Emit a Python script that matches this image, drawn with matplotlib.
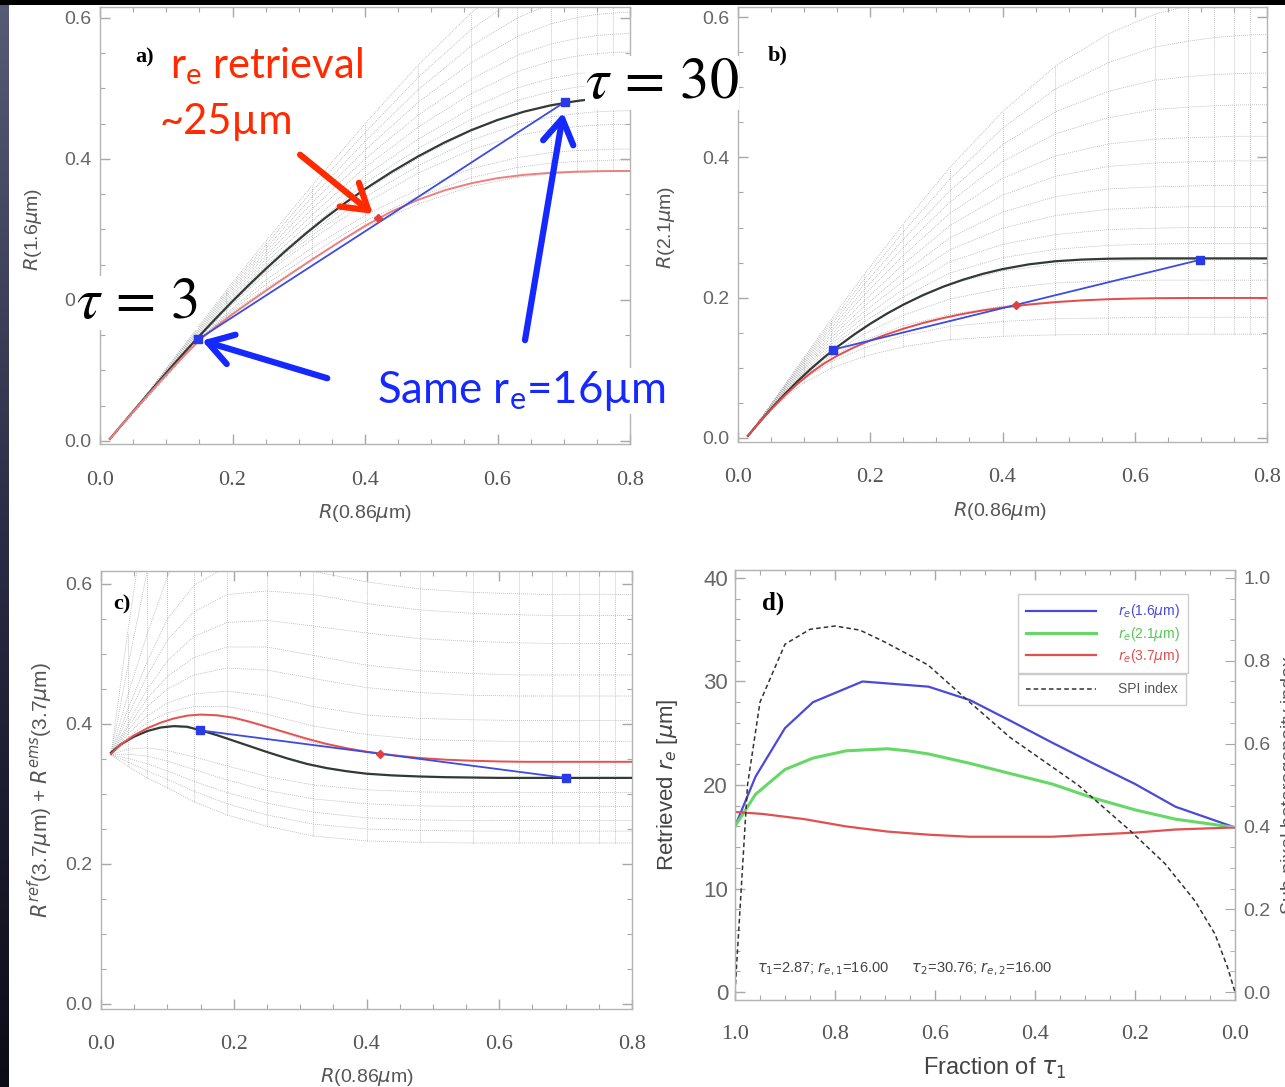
import numpy as np
import matplotlib.pyplot as plt
from matplotlib.ticker import MultipleLocator, FormatStrFormatter
from matplotlib.colors import LinearSegmentedColormap
from matplotlib.patches import Rectangle

W, H = 1285, 1087

plt.rcParams['font.family'] = ['Liberation Sans', 'DejaVu Sans']
plt.rcParams['mathtext.fontset'] = 'custom'
plt.rcParams['mathtext.rm'] = 'Lato'
plt.rcParams['mathtext.it'] = 'Lato:italic'
plt.rcParams['mathtext.bf'] = 'Lato:bold'

# ---------------- values ----------------
# R(0.86um) nodes of the look-up-table (dotted) curves of panels a-c
MESH_X = [0.015, 0.04, 0.07, 0.10, 0.14, 0.19, 0.25, 0.32, 0.40, 0.48, 0.56, 0.63, 0.68, 0.72, 0.75, 0.775, 0.80]
# R(0.86um) nodes of the highlighted re=16 (black) and retrieved re (red) curves
CURVE_X = [0.015, 0.03, 0.05, 0.07, 0.09, 0.11, 0.13, 0.15, 0.175, 0.20, 0.225, 0.25, 0.28, 0.31,
           0.34, 0.37, 0.40, 0.44, 0.48, 0.52, 0.56, 0.60, 0.64, 0.68, 0.72, 0.76, 0.80]

# panel a : R(1.6um)
A_BLACK = [0.003, 0.0198, 0.042, 0.064, 0.0858, 0.1073, 0.1284, 0.149, 0.174, 0.1982, 0.2215, 0.2439, 0.2695,
           0.2937, 0.3164, 0.3376, 0.3573, 0.3815, 0.4036, 0.4234, 0.4407, 0.4553, 0.4671, 0.476, 0.4823, 0.4867, 0.4895]
A_RED = [0.003, 0.0197, 0.0415, 0.0628, 0.0837, 0.104, 0.1237, 0.1427, 0.1622, 0.1799, 0.1965, 0.2129, 0.2321,
         0.251, 0.2695, 0.2876, 0.3051, 0.3255, 0.342, 0.3555, 0.3655, 0.3728, 0.3775, 0.3804, 0.382, 0.3828, 0.383]
A_MESH = [
    [0.003, 0.029, 0.060, 0.091, 0.134, 0.176, 0.216, 0.258, 0.303, 0.336, 0.361, 0.374, 0.379, 0.381, 0.382, 0.383, 0.383],
    [0.003, 0.029, 0.0605, 0.0915, 0.1345, 0.178, 0.222, 0.2655, 0.3115, 0.3465, 0.3735, 0.388, 0.394, 0.3965, 0.3975, 0.3985, 0.3985],
    [0.003, 0.029, 0.061, 0.092, 0.135, 0.180, 0.228, 0.274, 0.320, 0.357, 0.386, 0.402, 0.409, 0.412, 0.413, 0.414, 0.414],
    [0.003, 0.030, 0.061, 0.094, 0.136, 0.185, 0.237, 0.286, 0.337, 0.380, 0.413, 0.433, 0.442, 0.446, 0.448, 0.449, 0.449],
    [0.003, 0.030, 0.0615, 0.0955, 0.1365, 0.187, 0.2405, 0.291, 0.346, 0.3905, 0.4265, 0.449, 0.4595, 0.4645, 0.467, 0.468, 0.4685],
    [0.003, 0.030, 0.062, 0.095, 0.137, 0.189, 0.244, 0.296, 0.355, 0.401, 0.440, 0.465, 0.477, 0.483, 0.486, 0.487, 0.488],
    [0.003, 0.030, 0.0625, 0.096, 0.139, 0.192, 0.2485, 0.304, 0.3655, 0.4145, 0.456, 0.483, 0.4955, 0.502, 0.505, 0.506, 0.507],
    [0.003, 0.030, 0.063, 0.097, 0.141, 0.195, 0.253, 0.312, 0.376, 0.428, 0.472, 0.501, 0.514, 0.521, 0.524, 0.525, 0.526],
    [0.003, 0.030, 0.0635, 0.098, 0.143, 0.198, 0.258, 0.3205, 0.388, 0.445, 0.4925, 0.524, 0.5385, 0.546, 0.5495, 0.551, 0.552],
    [0.003, 0.030, 0.064, 0.099, 0.145, 0.201, 0.263, 0.329, 0.400, 0.462, 0.513, 0.547, 0.563, 0.571, 0.575, 0.577, 0.578],
    [0.003, 0.0305, 0.0645, 0.100, 0.1465, 0.204, 0.268, 0.3375, 0.4125, 0.480, 0.5365, 0.5735, 0.5915, 0.6005, 0.605, 0.607, 0.608],
    [0.003, 0.031, 0.065, 0.101, 0.148, 0.207, 0.273, 0.346, 0.425, 0.498, 0.560, 0.600, 0.620, 0.630, 0.635, 0.637, 0.638],
    [0.003, 0.031, 0.0655, 0.102, 0.150, 0.210, 0.278, 0.354, 0.4375, 0.5155, 0.5835, 0.629, 0.6515, 0.6635, 0.669, 0.6715, 0.673],
    [0.003, 0.031, 0.066, 0.103, 0.152, 0.213, 0.283, 0.362, 0.450, 0.533, 0.607, 0.658, 0.683, 0.697, 0.703, 0.706, 0.708],
]
A_PTS_X = [0.148, 0.42, 0.702]      # tau=3, mean reflectance, tau=30
A_PTS_Y = [0.144, 0.316, 0.481]

# panel b : R(2.1um)
B_BLACK = [0.003, 0.0199, 0.0415, 0.0618, 0.0808, 0.0984, 0.1147, 0.1297, 0.147, 0.1628, 0.1771, 0.19, 0.2037,
           0.2155, 0.2255, 0.2339, 0.2407, 0.2475, 0.2519, 0.2543, 0.2555, 0.2559, 0.256, 0.256, 0.256, 0.256, 0.256]
B_RED = [0.003, 0.0198, 0.0407, 0.0598, 0.0772, 0.0927, 0.1061, 0.1172, 0.1289, 0.139, 0.1478, 0.1557, 0.164,
         0.1709, 0.1768, 0.1818, 0.1859, 0.1902, 0.1936, 0.1961, 0.1978, 0.1988, 0.1993, 0.1995, 0.1996, 0.1996, 0.1996]
B_MESH = [
    [0.003, 0.030, 0.057, 0.079, 0.099, 0.116, 0.130, 0.140, 0.145, 0.147, 0.148, 0.148, 0.148, 0.148, 0.148, 0.148, 0.148],
    [0.003, 0.031, 0.060, 0.084, 0.108, 0.128, 0.146, 0.159, 0.166, 0.170, 0.171, 0.172, 0.172, 0.172, 0.172, 0.172, 0.172],
    [0.003, 0.032, 0.062, 0.088, 0.116, 0.139, 0.160, 0.176, 0.188, 0.195, 0.198, 0.199, 0.200, 0.200, 0.200, 0.200, 0.200],
    [0.003, 0.032, 0.063, 0.090, 0.119, 0.148, 0.175, 0.198, 0.213, 0.221, 0.224, 0.225, 0.225, 0.225, 0.225, 0.225, 0.225],
    [0.003, 0.033, 0.065, 0.093, 0.123, 0.158, 0.190, 0.219, 0.238, 0.248, 0.252, 0.254, 0.254, 0.254, 0.254, 0.254, 0.254],
    [0.003, 0.033, 0.066, 0.0955, 0.128, 0.165, 0.201, 0.235, 0.257, 0.269, 0.2745, 0.2765, 0.277, 0.277, 0.277, 0.277, 0.277],
    [0.003, 0.033, 0.067, 0.098, 0.133, 0.172, 0.212, 0.251, 0.276, 0.290, 0.297, 0.299, 0.300, 0.300, 0.300, 0.300, 0.300],
    [0.003, 0.0335, 0.068, 0.100, 0.1375, 0.1795, 0.2235, 0.268, 0.299, 0.317, 0.326, 0.3285, 0.3295, 0.330, 0.330, 0.330, 0.330],
    [0.003, 0.034, 0.069, 0.102, 0.142, 0.187, 0.235, 0.285, 0.322, 0.344, 0.355, 0.358, 0.359, 0.360, 0.360, 0.360, 0.360],
    [0.003, 0.034, 0.070, 0.1045, 0.1465, 0.195, 0.2475, 0.3025, 0.346, 0.373, 0.387, 0.392, 0.3935, 0.3945, 0.395, 0.395, 0.395],
    [0.003, 0.034, 0.071, 0.107, 0.151, 0.203, 0.260, 0.320, 0.370, 0.402, 0.419, 0.426, 0.428, 0.429, 0.430, 0.430, 0.430],
    [0.003, 0.0345, 0.072, 0.109, 0.1555, 0.2105, 0.2715, 0.336, 0.394, 0.4335, 0.4565, 0.468, 0.4715, 0.4735, 0.4745, 0.475, 0.475],
    [0.003, 0.035, 0.073, 0.111, 0.160, 0.218, 0.283, 0.352, 0.418, 0.465, 0.494, 0.510, 0.515, 0.518, 0.519, 0.520, 0.520],
    [0.003, 0.035, 0.074, 0.113, 0.164, 0.225, 0.294, 0.3685, 0.4415, 0.4975, 0.535, 0.557, 0.5655, 0.5705, 0.573, 0.5745, 0.575],
    [0.003, 0.035, 0.075, 0.115, 0.168, 0.232, 0.305, 0.385, 0.465, 0.530, 0.576, 0.604, 0.616, 0.623, 0.627, 0.629, 0.630],
]
B_PTS_X = [0.144, 0.42, 0.699]
B_PTS_Y = [0.126, 0.190, 0.254]

# panel c : R_ref(3.7um) + R_ems(3.7um)
C_BLACK = [0.359, 0.371, 0.382, 0.390, 0.395, 0.397, 0.396, 0.391, 0.384, 0.376, 0.368, 0.360, 0.351, 0.343,
           0.337, 0.3325, 0.329, 0.3265, 0.325, 0.324, 0.3235, 0.323, 0.323, 0.323, 0.323, 0.323, 0.323]
C_RED = [0.357, 0.371, 0.384, 0.394, 0.402, 0.408, 0.412, 0.4135, 0.4125, 0.409, 0.403, 0.396, 0.3875, 0.379,
         0.3715, 0.3655, 0.3605, 0.3555, 0.3515, 0.349, 0.3475, 0.3465, 0.346, 0.346, 0.346, 0.346, 0.346]
C_MESH = [
    [0.356, 0.340, 0.323, 0.309, 0.289, 0.270, 0.254, 0.240, 0.233, 0.231, 0.230, 0.230, 0.230, 0.230, 0.230, 0.230, 0.230],
    [0.356, 0.346, 0.333, 0.321, 0.304, 0.286, 0.270, 0.257, 0.250, 0.248, 0.247, 0.247, 0.247, 0.247, 0.247, 0.247, 0.247],
    [0.356, 0.351, 0.343, 0.333, 0.318, 0.302, 0.287, 0.274, 0.266, 0.263, 0.262, 0.262, 0.262, 0.262, 0.262, 0.262, 0.262],
    [0.356, 0.357, 0.354, 0.347, 0.335, 0.320, 0.305, 0.293, 0.286, 0.283, 0.282, 0.282, 0.282, 0.282, 0.282, 0.282, 0.282],
    [0.356, 0.364, 0.366, 0.362, 0.353, 0.340, 0.325, 0.313, 0.306, 0.303, 0.302, 0.302, 0.302, 0.302, 0.302, 0.302, 0.302],
    [0.359, 0.377, 0.390, 0.397, 0.393, 0.379, 0.360, 0.341, 0.329, 0.325, 0.324, 0.323, 0.323, 0.323, 0.323, 0.323, 0.323],
    [0.357, 0.376, 0.395, 0.405, 0.413, 0.410, 0.395, 0.373, 0.360, 0.350, 0.347, 0.346, 0.346, 0.346, 0.346, 0.346, 0.346],
    [0.356, 0.380, 0.402, 0.416, 0.425, 0.425, 0.414, 0.397, 0.385, 0.378, 0.376, 0.375, 0.375, 0.375, 0.375, 0.375, 0.375],
    [0.356, 0.385, 0.412, 0.430, 0.443, 0.447, 0.440, 0.425, 0.413, 0.408, 0.406, 0.405, 0.405, 0.405, 0.405, 0.405, 0.405],
    [0.356, 0.390, 0.425, 0.450, 0.470, 0.480, 0.477, 0.465, 0.452, 0.445, 0.441, 0.440, 0.440, 0.440, 0.440, 0.440, 0.440],
    [0.356, 0.395, 0.437, 0.468, 0.495, 0.510, 0.510, 0.498, 0.484, 0.476, 0.472, 0.470, 0.470, 0.470, 0.470, 0.470, 0.470],
    [0.356, 0.400, 0.450, 0.490, 0.525, 0.545, 0.548, 0.540, 0.530, 0.522, 0.518, 0.516, 0.515, 0.515, 0.515, 0.515, 0.515],
    [0.356, 0.410, 0.470, 0.520, 0.560, 0.585, 0.590, 0.585, 0.572, 0.563, 0.558, 0.556, 0.555, 0.555, 0.555, 0.555, 0.555],
    [0.356, 0.420, 0.490, 0.550, 0.598, 0.625, 0.628, 0.618, 0.603, 0.593, 0.588, 0.586, 0.585, 0.585, 0.585, 0.585, 0.585],
    [0.356, 0.440, 0.530, 0.610, 0.700, 0.780, 0.850, 0.900, 0.930, 0.940, 0.945, 0.950, 0.950, 0.950, 0.950, 0.950, 0.950],
    [0.356, 0.480, 0.620, 0.750, 0.880, 1.000, 1.100, 1.150, 1.180, 1.190, 1.200, 1.200, 1.200, 1.200, 1.200, 1.200, 1.200],
    [0.356, 0.530, 0.720, 0.900, 1.050, 1.200, 1.300, 1.350, 1.380, 1.390, 1.400, 1.400, 1.400, 1.400, 1.400, 1.400, 1.400],
]
C_PTS_X = [0.149, 0.42, 0.700]
C_PTS_Y = [0.391, 0.357, 0.323]

# panel d : retrieved re vs fraction of tau1
D_FRAC_16 = [1.0, 0.959, 0.90, 0.844, 0.745, 0.613, 0.53, 0.449, 0.366, 0.284, 0.20, 0.119, 0.0]
D_RE_16 = [16.0, 20.8, 25.5, 28.0, 30.0, 29.5, 28.2, 26.2, 24.1, 22.1, 20.1, 17.9, 15.9]
D_FRAC_21 = [1.0, 0.959, 0.90, 0.844, 0.778, 0.695, 0.654, 0.613, 0.531, 0.449, 0.366, 0.284, 0.20, 0.119, 0.0]
D_RE_21 = [16.0, 19.1, 21.5, 22.6, 23.3, 23.5, 23.3, 23.0, 22.1, 21.1, 20.1, 18.75, 17.6, 16.7, 15.9]
D_FRAC_37 = [1.0, 0.944, 0.861, 0.778, 0.695, 0.613, 0.531, 0.449, 0.366, 0.284, 0.20, 0.119, 0.0]
D_RE_37 = [17.4, 17.2, 16.7, 16.0, 15.5, 15.2, 15.0, 15.0, 15.0, 15.2, 15.4, 15.7, 15.9]
D_SPI_FRAC = [1.0, 0.99, 0.975, 0.95, 0.90, 0.85, 0.80, 0.75, 0.70, 0.614, 0.54, 0.45, 0.314, 0.21, 0.14, 0.08, 0.04, 0.015, 0.0]
D_SPI = [0.0, 0.20, 0.50, 0.70, 0.84, 0.876, 0.884, 0.874, 0.845, 0.79, 0.71, 0.615, 0.50, 0.39, 0.31, 0.22, 0.14, 0.06, 0.0]
D_LABELS = [r'$r_e$(1.6$\mu$m)', r'$r_e$(2.1$\mu$m)', r'$r_e$(3.7$\mu$m)']

# ---------------- figure ----------------
fig = plt.figure(figsize=(W / 100, H / 100), dpi=100)
fig.patch.set_facecolor('white')

MESH_COL = '#a2a2a2'
LAB_COL = '#555555'


def px_axes(x0, x1, ytop, ybot):
    return fig.add_axes([x0 / W, 1 - ybot / H, (x1 - x0) / W, (ybot - ytop) / H])


def style(ax, xmaj, xmin, ymaj, ymin, xfmt, yfmt, xsize, ysize, xpad, ypad, right=True):
    ax.xaxis.set_major_locator(MultipleLocator(xmaj))
    ax.xaxis.set_minor_locator(MultipleLocator(xmin))
    ax.yaxis.set_major_locator(MultipleLocator(ymaj))
    ax.yaxis.set_minor_locator(MultipleLocator(ymin))
    ax.xaxis.set_major_formatter(FormatStrFormatter(xfmt))
    ax.yaxis.set_major_formatter(FormatStrFormatter(yfmt))
    for sp in ax.spines.values():
        sp.set_color('#b4b4b4')
        sp.set_linewidth(1.0)
    ax.tick_params(which='both', direction='in', top=True, right=right, color='#a8a8a8')
    ax.tick_params(which='major', length=7, width=1)
    ax.tick_params(which='minor', length=3.5, width=0.8)
    ax.tick_params(axis='x', labelsize=xsize, pad=xpad, labelcolor='#555555',
                   labelfontfamily='Liberation Serif')
    ax.tick_params(axis='y', labelsize=ysize, pad=ypad, labelcolor='#666666')


def draw_mesh(ax, rows):
    for row in rows:
        ax.plot(MESH_X, row, ls=(0, (1, 1.6)), lw=0.55, color=MESH_COL, zorder=1)
    tab = np.array(rows)
    for j in range(1, len(MESH_X) - 1):
        ax.plot([MESH_X[j], MESH_X[j]], [tab[:, j].min(), tab[:, j].max()],
                ls=(0, (1, 1.6)), lw=0.55, color=MESH_COL, zorder=1)


ax_a = px_axes(100, 630, 7.4, 444.5)
ax_b = px_axes(738, 1267, 6.5, 441.5)
ax_c = px_axes(101, 632, 571.4, 1008.9)
ax_d = px_axes(735, 1235, 570, 1000)

panels = [
    (ax_a, A_BLACK, A_RED, A_MESH, A_PTS_X, A_PTS_Y, '#ee7f7f', (-0.005, 0.615)),
    (ax_b, B_BLACK, B_RED, B_MESH, B_PTS_X, B_PTS_Y, '#e84a4a', (-0.005, 0.615)),
    (ax_c, C_BLACK, C_RED, C_MESH, C_PTS_X, C_PTS_Y, '#e85050', (-0.007, 0.618)),
]
for ax, black, red, mesh, px, py, rcol, ylim in panels:
    draw_mesh(ax, mesh)
    ax.plot(CURVE_X, black, color='#323a34', lw=1.6, zorder=3)
    ax.plot(CURVE_X, red, color=rcol, lw=1.4, zorder=3)
    ax.plot([px[0], px[2]], [py[0], py[2]], color='#3c4be0', lw=1.3, zorder=4)
    ax.plot([px[0], px[2]], [py[0], py[2]], 's', color='#2a3ae8', ms=5.5, zorder=5)
    ax.plot(px[1], py[1], 'D', color='#e04040', ms=4.5, zorder=5)
    ax.set_xlim(0, 0.8)
    ax.set_ylim(*ylim)
    style(ax, 0.2, 0.05, 0.2, 0.05, '%.1f', '%.1f', 16, 14, 19, 6)

mkw = dict(color=LAB_COL, math_fontfamily='dejavusans')
ax_a.set_xlabel(r'$R$(0.86$\mu$m)', fontsize=14, **mkw)
ax_a.set_ylabel(r'$R$(1.6$\mu$m)', fontsize=14, **mkw)
ax_b.set_xlabel(r'$R$(0.86$\mu$m)', fontsize=14, **mkw)
ax_b.set_ylabel(r'$R$(2.1$\mu$m)', fontsize=14, **mkw)
ax_c.set_xlabel(r'$R$(0.86$\mu$m)', fontsize=14, **mkw)
ax_c.set_ylabel(r'$R^{ref}$(3.7$\mu$m) + $R^{ems}$(3.7$\mu$m)', fontsize=15, **mkw)
ax_a.xaxis.set_label_coords(0.5, -0.157)
ax_a.yaxis.set_label_coords(-0.126, 0.491)
ax_b.xaxis.set_label_coords(0.495, -0.16)
ax_b.yaxis.set_label_coords(-0.136, 0.491)
ax_c.xaxis.set_label_coords(0.5, -0.156)
ax_c.yaxis.set_label_coords(-0.115, 0.5)
for ax in (ax_a, ax_b, ax_c):
    ax.xaxis.label.set_va('center')
    ax.yaxis.label.set_va('center')

ax_a.text(0.066, 0.8865, 'a)', transform=ax_a.transAxes, fontsize=16, fontweight='bold',
          family='Liberation Serif', va='center')
ax_b.text(0.057, 0.8885, 'b)', transform=ax_b.transAxes, fontsize=16, fontweight='bold',
          family='Liberation Serif', va='center')
ax_c.text(0.0226, 0.9255, 'c)', transform=ax_c.transAxes, fontsize=16, fontweight='bold',
          family='Liberation Serif', va='center')

# ---------- panel d ----------
l16, = ax_d.plot(D_FRAC_16, D_RE_16, color='#4a4ad8', lw=1.6)
l21, = ax_d.plot(D_FRAC_21, D_RE_21, color='#66d866', lw=2.2)
l37, = ax_d.plot(D_FRAC_37, D_RE_37, color='#e05050', lw=1.6)
ax_d.set_xlim(1.0, 0.0)
ax_d.set_ylim(-0.77, 40.77)
style(ax_d, 0.2, 0.05, 10, 2, '%.1f', '%d', 16, 16, 18, 5, right=False)
ax_d.set_xlabel(r'Fraction of $\tau_1$', fontsize=17, color='#444444', math_fontfamily='dejavusans')
ax_d.set_ylabel(r'Retrieved $r_e$ [$\mu$m]', fontsize=16, color='#444444', math_fontfamily='dejavusans')
ax_d.xaxis.set_label_coords(0.52, -0.158)
ax_d.yaxis.set_label_coords(-0.136, 0.5)
ax_d.xaxis.label.set_va('center')
ax_d.yaxis.label.set_va('center')

ax_d2 = ax_d.twinx()
lspi, = ax_d2.plot(D_SPI_FRAC, D_SPI, color='#333333', lw=1.1, ls=(0, (3, 2)))
ax_d2.set_ylim(-0.77 / 40, 40.77 / 40)
ax_d2.yaxis.set_major_locator(MultipleLocator(0.2))
ax_d2.yaxis.set_minor_locator(MultipleLocator(0.05))
ax_d2.yaxis.set_major_formatter(FormatStrFormatter('%.1f'))
ax_d2.tick_params(which='both', direction='in', color='#a8a8a8', labelsize=14, labelcolor='#666666', pad=6)
ax_d2.tick_params(which='major', length=7)
ax_d2.tick_params(which='minor', length=3.5)
for sp in ax_d2.spines.values():
    sp.set_color('#b4b4b4')
ax_d2.set_ylabel('Sub-pixel heterogeneity index', fontsize=14, color='#555555')
ax_d2.yaxis.set_label_coords(1.108, 0.5)
ax_d2.yaxis.label.set_va('center')

leg_kw = dict(loc='upper left', fontsize=10, frameon=True, fancybox=False, borderaxespad=0,
              handlelength=5.0, handletextpad=1.6, borderpad=0.6)
leg1 = ax_d2.legend([l16, l21, l37], D_LABELS, bbox_to_anchor=(0.566, 0.944), labelspacing=0.3, **leg_kw)
leg1.get_frame().set_edgecolor('#c0c0c0')
leg1.get_frame().set_linewidth(1)
for t, c in zip(leg1.get_texts(), ['#4a4ad8', '#55c855', '#e05050']):
    t.set_color(c)
    t.set_math_fontfamily('dejavusans')
ax_d2.add_artist(leg1)
leg2 = ax_d2.legend([lspi], ['SPI index'], bbox_to_anchor=(0.566, 0.758), **leg_kw)
leg2.get_frame().set_edgecolor('#c0c0c0')
leg2.get_frame().set_linewidth(1)
leg2.get_texts()[0].set_color('#555555')

ax_d.text(0.044, 0.072, r'$\tau_1$=2.87; $r_{e,1}$=16.00      $\tau_2$=30.76; $r_{e,2}$=16.00',
          transform=ax_d.transAxes, fontsize=10.5, color='#444444', va='center',
          math_fontfamily='dejavusans')
ax_d.text(0.054, 0.923, 'd)', transform=ax_d.transAxes, fontsize=18, fontweight='bold',
          family='Liberation Serif', va='center')

# ---------- slide annotations on panel a ----------
RED_T = '#ff2a00'
BLUE_T = '#1428ff'
arrow_kw = dict(arrowstyle='->,head_length=0.8,head_width=0.5', lw=4.5, mutation_scale=22, shrinkA=0)
ax_a.annotate('', xy=(A_PTS_X[1], A_PTS_Y[1]), xytext=(0.302, 0.406),
              arrowprops=dict(color=RED_T, shrinkB=5, **arrow_kw), zorder=6)
ax_a.annotate('', xy=(A_PTS_X[0], A_PTS_Y[0]), xytext=(0.343, 0.089),
              arrowprops=dict(color=BLUE_T, shrinkB=3, **arrow_kw), zorder=6)
ax_a.annotate('', xy=(A_PTS_X[2], A_PTS_Y[2]), xytext=(0.6415, 0.143),
              arrowprops=dict(color=BLUE_T, shrinkB=8, **arrow_kw), zorder=6)

box = dict(facecolor='white', edgecolor='none', pad=1)
fig.text(170 / W, 1 - 78 / H, r'r$_\mathrm{e}$ retrieval', color=RED_T, fontsize=30,
         family='Lato', va='baseline', ha='left', bbox=box)
fig.text(160 / W, 1 - 134 / H, '~25\u00b5m', color=RED_T, fontsize=30, family='Lato',
         va='baseline', ha='left')
fig.text(377 / W, 1 - 403 / H, r'Same r$_\mathrm{e}$=16' + '\u00b5m', color=BLUE_T, fontsize=31.5,
         family='Lato', va='baseline', ha='left', bbox=box)
fig.text(585 / W, 1 - 98 / H, r'$\tau\,=\,30$', color='black', fontsize=42, math_fontfamily='stix',
         va='baseline', ha='left', bbox=dict(facecolor='white', edgecolor='none', pad=0))
fig.text(76 / W, 1 - 318 / H, r'$\tau\,=\,3$', color='black', fontsize=42, math_fontfamily='stix',
         va='baseline', ha='left', bbox=dict(facecolor='white', edgecolor='none', pad=0))

# ---------- slide edges ----------
strip = fig.add_axes([0, 0, 9 / W, 1])
grad = np.linspace(0, 1, 256).reshape(-1, 1)
strip.imshow(grad, aspect='auto', extent=[0, 1, 0, 1],
             cmap=LinearSegmentedColormap.from_list('slide', ['#575b76', '#2a2b45', '#0c0c18']))
strip.axis('off')
fig.add_artist(Rectangle((0, 1 - 5 / H), 1, 5 / H, transform=fig.transFigure,
                         facecolor='black', edgecolor='none', zorder=20))

fig.savefig('out.png', dpi=100)
